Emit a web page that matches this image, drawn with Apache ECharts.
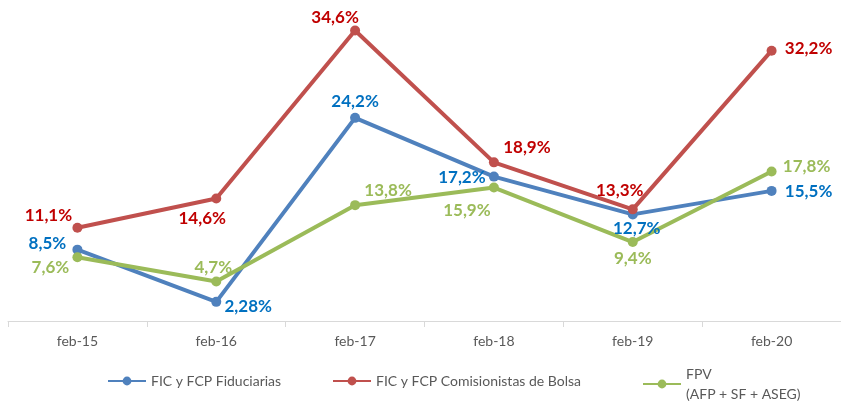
<!DOCTYPE html>
<html>
<head>
<meta charset="utf-8">
<script src="https://cdn.jsdelivr.net/npm/echarts@6/dist/echarts.min.js"></script>
<style>
    html, body { margin: 0; padding: 0; background: #fff; }
    #chart { width: 841px; height: 409px; }
</style>
</head>
<body>
<div id="chart"></div>
<script>
    // datos
    const categories = ['feb-15', 'feb-16', 'feb-17', 'feb-18', 'feb-19', 'feb-20'];
    const fiduciarias = [8.5, 2.28, 24.2, 17.2, 12.7, 15.5];
    const comisionistas = [11.1, 14.6, 34.6, 18.9, 13.3, 32.2];
    const fpv = [7.6, 4.7, 13.8, 15.9, 9.4, 17.8];

    // desplazamiento de etiquetas (respecto al punto)
    const offFid = [[-30, -6], [32, 5], [0, -16], [-32, 1], [4, 14], [37, 1]];
    const offCom = [[-29, -12], [-14, 20], [-20, -13], [33, -15], [-13, -19], [37, -2]];
    const offFpv = [[-27, 10], [-3, -14], [33, -15], [-27, 23], [0, 16], [35, -5]];

    const fmt = v => String(v).replace('.', ',') + '%';

    function makeData(values, offsets, color){
        return values.map((v, i) => ({
            value: v,
            label: {
                show: true,
                position: 'inside',
                offset: offsets[i],
                color: color,
                fontFamily: 'Lato',
                fontWeight: 'bold',
                fontSize: 17,
                align: 'center',
                verticalAlign: 'middle',
                formatter: p => fmt(p.value)
            }
        }));
    }

    function makeSeries(name, values, offsets, lineColor, labelColor){
        return {
            name: name,
            type: 'line',
            data: makeData(values, offsets, labelColor),
            symbol: 'circle',
            symbolSize: 10,
            lineStyle: { width: 4, color: lineColor },
            itemStyle: { color: lineColor },
            emphasis: { disabled: true },
            animation: false
        };
    }

    const legendText = { color: '#595959', fontFamily: 'Lato', fontSize: 14 };

    const chart = echarts.init(document.getElementById('chart'));
    chart.setOption({
        backgroundColor: '#fff',
        grid: { left: 8, width: 838, top: 2, bottom: 88 },
        legend: [
            {
                data: ['FIC y FCP Fiduciarias'], left: 107, top: 374, padding: 0,
                itemWidth: 38, itemHeight: 11, textStyle: legendText
            },
            {
                data: ['FIC y FCP Comisionistas de Bolsa'], left: 332, top: 374, padding: 0,
                itemWidth: 38, itemHeight: 11, textStyle: legendText
            },
            {
                data: ['FPV'], left: 642, top: 374 - 20, padding: 0,
                itemWidth: 38, itemHeight: 11,
                formatter: () => 'FPV\n(AFP + SF + ASEG)',
                textStyle: Object.assign({ lineHeight: 20, padding: [20, 0, 0, 0] }, legendText)
            }
        ],
        xAxis: {
            type: 'category',
            data: categories,
            boundaryGap: true,
            axisLine: { lineStyle: { color: '#D9D9D9', width: 1 } },
            axisTick: { show: true, length: 6, lineStyle: { color: '#D9D9D9' } },
            axisLabel: { color: '#595959', fontFamily: 'Lato', fontSize: 14, margin: 13 }
        },
        yAxis: {
            type: 'value',
            min: 0,
            max: 38,
            show: false,
            splitLine: { show: false }
        },
        series: [
            makeSeries('FIC y FCP Fiduciarias', fiduciarias, offFid, '#4F81BD', '#0070C0'),
            makeSeries('FIC y FCP Comisionistas de Bolsa', comisionistas, offCom, '#C0504D', '#C00000'),
            makeSeries('FPV', fpv, offFpv, '#9BBB59', '#9BBB59')
        ]
    });
</script>
</body>
</html>
